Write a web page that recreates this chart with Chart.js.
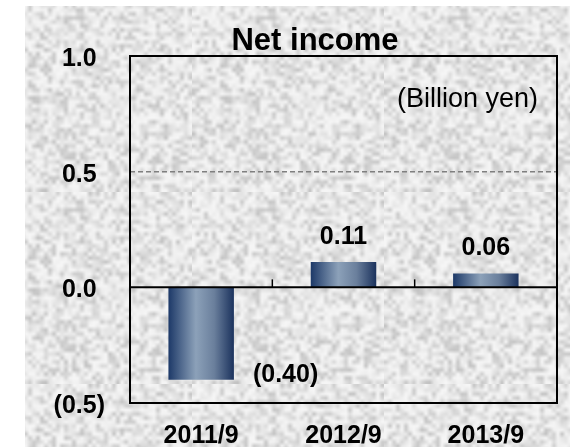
<!DOCTYPE html>
<html lang="en">
<head>
<meta charset="UTF-8">
<title>Net income</title>
<script src="https://cdn.jsdelivr.net/npm/chart.js"></script>
<style>
  html, body { margin: 0; padding: 0; background: #fff; }
  canvas { display: block; }
</style>
</head>
<body>
<canvas id="chart" width="570" height="447"></canvas>
<script>
// Net income, billion yen
const categories = ['2011/9', '2012/9', '2013/9'];
const netIncome = [-0.40, 0.11, 0.06];
const yTicks = [-0.5, 0, 0.5, 1.0];

const FONT = "'Liberation Sans', Arial, sans-serif";
const BAR_PCT = 0.46;

function fmt(v, digits) {
  return v < 0 ? '(' + (-v).toFixed(digits) + ')' : v.toFixed(digits);
}

// speckled grey paper texture (deterministic hash, not data)
function makeTexture() {
  const n = 48;
  const small = document.createElement('canvas');
  small.width = n; small.height = n;
  const sctx = small.getContext('2d');
  const img = sctx.createImageData(n, n);
  for (let i = 0; i < n * n; i++) {
    const h = Math.abs(Math.sin(i * 12.9898 + 78.233) * 43758.5453) % 1;
    const g = Math.round(246 - h * h * 52);
    img.data[i * 4] = g; img.data[i * 4 + 1] = g; img.data[i * 4 + 2] = g; img.data[i * 4 + 3] = 255;
  }
  sctx.putImageData(img, 0, 0);
  const big = document.createElement('canvas');
  big.width = n * 4; big.height = n * 4;
  const bctx = big.getContext('2d');
  bctx.imageSmoothingEnabled = true;
  bctx.drawImage(small, 0, 0, n * 4, n * 4);
  return big;
}
const texture = makeTexture();

function barGradient(c) {
  const chart = c.chart;
  const xs = chart.scales.x;
  if (!chart.chartArea || !xs) return '#2a4670';
  const cx = xs.getPixelForValue(c.dataIndex);
  const w = (xs.width / categories.length) * BAR_PCT;
  const g = chart.ctx.createLinearGradient(cx - w / 2, 0, cx + w / 2, 0);
  g.addColorStop(0, '#1d3968');
  g.addColorStop(0.42, '#8ca1b9');
  g.addColorStop(0.7, '#6a7f9c');
  g.addColorStop(1, '#1b325d');
  return g;
}

const decor = {
  id: 'decor',
  beforeDraw(chart) {
    const ctx = chart.ctx;
    ctx.save();
    ctx.fillStyle = '#ffffff';
    ctx.fillRect(0, 0, chart.width, chart.height);
    ctx.fillStyle = ctx.createPattern(texture, 'repeat');
    ctx.fillRect(25, 6, chart.width - 25, chart.height - 6);
    ctx.restore();
  },
  beforeDatasetsDraw(chart) {
    const ctx = chart.ctx, a = chart.chartArea, y = chart.scales.y;
    ctx.save();
    ctx.strokeStyle = '#7f7f7f';
    ctx.lineWidth = 1.5;
    ctx.setLineDash([5, 3]);
    const py = y.getPixelForValue(0.5);
    ctx.beginPath();
    ctx.moveTo(a.left, py);
    ctx.lineTo(a.right, py);
    ctx.stroke();
    ctx.restore();
  },
  afterDatasetsDraw(chart) {
    const ctx = chart.ctx, a = chart.chartArea, x = chart.scales.x, y = chart.scales.y;
    ctx.save();
    // frame
    ctx.strokeStyle = '#000';
    ctx.lineWidth = 2;
    ctx.strokeRect(a.left, a.top, a.right - a.left, a.bottom - a.top);
    // zero line with category tick marks
    const zy = y.getPixelForValue(0);
    ctx.beginPath();
    ctx.moveTo(a.left, zy);
    ctx.lineTo(a.right, zy);
    ctx.stroke();
    ctx.lineWidth = 1.5;
    for (let i = 0; i < categories.length - 1; i++) {
      const tx = (x.getPixelForValue(i) + x.getPixelForValue(i + 1)) / 2;
      ctx.beginPath();
      ctx.moveTo(tx, zy);
      ctx.lineTo(tx, zy - 8);
      ctx.stroke();
    }
    // data labels
    ctx.fillStyle = '#000';
    ctx.font = 'bold 25px ' + FONT;
    ctx.textBaseline = 'alphabetic';
    chart.getDatasetMeta(0).data.forEach((bar, i) => {
      const v = netIncome[i];
      if (v < 0) {
        ctx.textAlign = 'left';
        ctx.fillText(fmt(v, 2), bar.x + bar.width / 2 + 19, bar.y + 2);
      } else {
        ctx.textAlign = 'center';
        ctx.fillText(fmt(v, 2), bar.x, bar.y - 18);
      }
    });
    // title and unit
    ctx.font = 'bold 31px ' + FONT;
    ctx.textAlign = 'center';
    ctx.fillText('Net income', 315, 50);
    ctx.font = '27px ' + FONT;
    ctx.textAlign = 'right';
    ctx.fillText('(Billion yen)', 538, 107);
    ctx.restore();
  }
};

new Chart(document.getElementById('chart'), {
  type: 'bar',
  data: {
    labels: categories,
    datasets: [{
      label: 'Net income',
      data: netIncome,
      backgroundColor: barGradient,
      borderWidth: 0,
      barPercentage: BAR_PCT,
      categoryPercentage: 1
    }]
  },
  options: {
    responsive: false,
    animation: false,
    devicePixelRatio: 1,
    layout: { padding: { left: 25, top: 56, right: 13, bottom: 0 } },
    plugins: {
      legend: { display: false },
      tooltip: { enabled: false },
      title: { display: false }
    },
    scales: {
      x: {
        grid: { display: false, drawTicks: false },
        border: { display: false },
        ticks: { color: '#000', font: { family: FONT, size: 25, weight: 'bold' }, padding: 18 },
        afterFit(scale) { scale.height = 44; }
      },
      y: {
        min: -0.5,
        max: 1.0,
        grid: { display: false, drawTicks: false },
        border: { display: false },
        afterBuildTicks(scale) { scale.ticks = yTicks.map(v => ({ value: v })); },
        ticks: {
          color: '#000',
          crossAlign: 'center',
          padding: 25,
          labelOffset: 3,
          font: { family: FONT, size: 25, weight: 'bold' },
          callback: v => fmt(v, 1)
        },
        afterFit(scale) { scale.width = 105; }
      }
    }
  },
  plugins: [decor]
});
</script>
</body>
</html>
